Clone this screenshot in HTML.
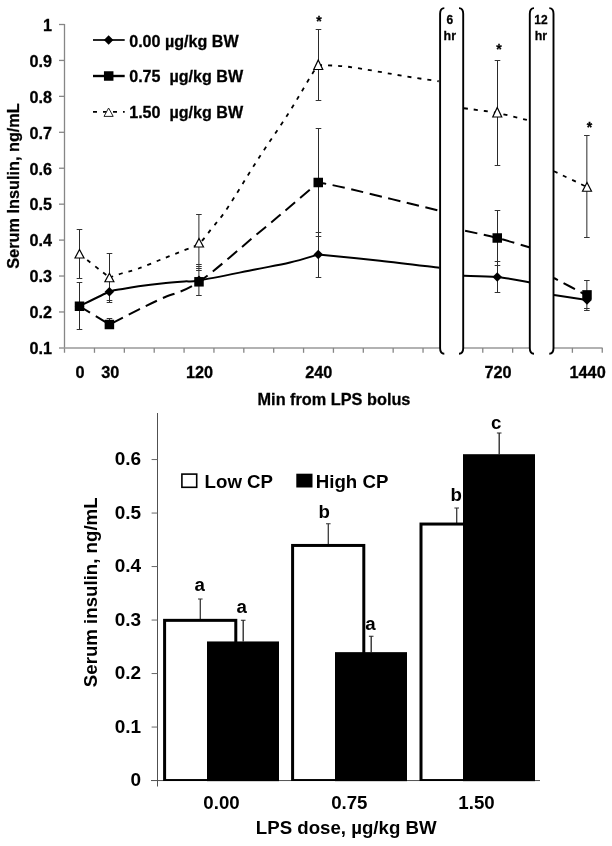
<!DOCTYPE html>
<html lang="en"><head><meta charset="utf-8"><title>Serum insulin</title>
<style>html,body{margin:0;padding:0;background:#fff}svg{display:block}text{font-family:"Liberation Sans",Arial,sans-serif;font-weight:bold;fill:#000;stroke:#000;stroke-width:0.28px}.b text{stroke:none}</style></head><body>
<svg width="612" height="846" viewBox="0 0 612 846">
<rect width="612" height="846" fill="#fff"/>
<g stroke="#868686" stroke-width="1.3" fill="none">
<path d="M64.50 24.00 V352.80"/>
<path d="M59.00 347.90 H602.60" stroke="#999" stroke-width="1.5"/>
<path d="M59 311.97 H64.50"/>
<path d="M59 276.03 H64.50"/>
<path d="M59 240.10 H64.50"/>
<path d="M59 204.17 H64.50"/>
<path d="M59 168.23 H64.50"/>
<path d="M59 132.30 H64.50"/>
<path d="M59 96.37 H64.50"/>
<path d="M59 60.43 H64.50"/>
<path d="M59 24.50 H64.50"/>
<path d="M94.47 347.90 V352.8"/>
<path d="M124.34 347.90 V352.8"/>
<path d="M154.21 347.90 V352.8"/>
<path d="M184.08 347.90 V352.8"/>
<path d="M213.95 347.90 V352.8"/>
<path d="M243.82 347.90 V352.8"/>
<path d="M273.69 347.90 V352.8"/>
<path d="M303.56 347.90 V352.8"/>
<path d="M333.43 347.90 V352.8"/>
<path d="M363.30 347.90 V352.8"/>
<path d="M393.17 347.90 V352.8"/>
<path d="M423.04 347.90 V352.8"/>
<path d="M452.91 347.90 V352.8"/>
<path d="M482.78 347.90 V352.8"/>
<path d="M512.65 347.90 V352.8"/>
<path d="M542.52 347.90 V352.8"/>
<path d="M572.39 347.90 V352.8"/>
<path d="M602.26 347.90 V352.8"/>
</g>
<g font-size="16.2" text-anchor="end">
<text x="52.0" y="354.20">0.1</text>
<text x="52.0" y="318.27">0.2</text>
<text x="52.0" y="282.33">0.3</text>
<text x="52.0" y="246.40">0.4</text>
<text x="52.0" y="210.47">0.5</text>
<text x="52.0" y="174.53">0.6</text>
<text x="52.0" y="138.60">0.7</text>
<text x="52.0" y="102.67">0.8</text>
<text x="52.0" y="66.73">0.9</text>
<text x="52.0" y="30.80">1</text>
</g>
<g font-size="16.3" text-anchor="middle">
<text x="80.1" y="378.3">0</text>
<text x="110.2" y="378.3">30</text>
<text x="199.6" y="378.3">120</text>
<text x="318.8" y="378.3">240</text>
<text x="498.0" y="378.3">720</text>
<text x="587.6" y="378.3">1440</text>
<text x="334" y="405.2">Min from LPS bolus</text>
<text transform="translate(19.3 186) rotate(-90)">Serum Insulin, ng/mL</text>
</g>
<g fill="none" stroke="#000" stroke-width="2">
<path d="M79.50 306.25 C84.48 303.84 102.22 294.68 109.40 291.80 C116.58 288.93 117.73 289.92 122.60 289.00 C127.47 288.08 132.12 287.23 138.60 286.30 C145.08 285.37 153.87 284.22 161.50 283.40 C169.13 282.58 178.15 281.88 184.40 281.40 C190.65 280.92 187.23 282.48 199.00 280.50 C210.77 278.52 239.83 272.50 255.00 269.50 C270.17 266.50 279.46 265.00 290.00 262.50 C300.54 260.00 313.54 255.83 318.25 254.50"/>
<path d="M318.25 254.50 C328.54 255.53 359.79 258.48 380.00 260.70 C400.21 262.92 429.58 266.62 439.50 267.80"/>
<path d="M464.00 275.75 C469.54 275.96 486.25 275.88 497.25 277.00 C508.25 278.12 524.54 281.58 530.00 282.50"/>
<path d="M554.00 295.00 C559.50 295.83 581.50 299.17 587.00 300.00"/>
</g>
<g fill="none" stroke="#000" stroke-width="2" stroke-dasharray="12.5 6.5">
<path d="M79.50 306.25 C84.48 309.29 104.42 321.46 109.40 324.50"/>
<path d="M109.40 324.50 C114.27 322.02 129.72 314.00 138.60 309.60 C147.48 305.20 152.63 302.73 162.70 298.10 C172.77 293.47 183.20 292.53 199.00 281.80 C214.80 271.07 242.75 245.93 257.50 233.75 C272.25 221.57 277.38 217.29 287.50 208.75 C297.62 200.21 313.12 186.88 318.25 182.50" stroke-dashoffset="16.3"/>
<path d="M318.25 182.50 C323.12 183.48 327.29 183.68 347.50 188.40 C367.71 193.12 424.17 207.07 439.50 210.80" stroke-dashoffset="4.3"/>
<path d="M464.00 230.50 C469.54 231.75 486.25 235.17 497.25 238.00 C508.25 240.83 524.54 245.92 530.00 247.50" stroke-dashoffset="17.75"/>
<path d="M554.00 278.00 C559.50 280.92 581.50 292.58 587.00 295.50" stroke-dashoffset="8"/>
</g>
<g fill="none" stroke="#000" stroke-width="1.8" stroke-dasharray="4 6">
<path d="M79.50 254.00 C84.48 257.92 104.42 273.58 109.40 277.50"/>
<path d="M109.40 277.50 C111.42 276.83 116.63 275.00 121.50 273.50 C126.37 272.00 131.93 270.87 138.60 268.50 C145.27 266.13 153.87 262.35 161.50 259.30 C169.13 256.25 178.15 252.83 184.40 250.20 C190.65 247.57 194.32 247.28 199.00 243.50 C203.68 239.72 207.75 233.42 212.50 227.50 C217.25 221.58 220.00 219.25 227.50 208.00 C235.00 196.75 247.38 175.71 257.50 160.00 C267.62 144.29 279.50 127.50 288.25 113.75 C297.00 100.00 305.00 85.62 310.00 77.50 C315.00 69.38 316.88 67.08 318.25 65.00"/>
<path d="M318.25 65.00 C323.54 65.33 335.54 65.12 350.00 67.00 C364.46 68.88 390.21 73.88 405.00 76.25 C419.79 78.62 433.12 80.42 438.75 81.25"/>
<path d="M464.00 108.25 C469.54 109.04 486.25 110.92 497.25 113.00 C508.25 115.08 524.54 119.46 530.00 120.75"/>
<path d="M554.00 171.25 C559.50 173.88 581.50 184.38 587.00 187.00"/>
</g>
<g fill="none">
<path d="M79.50 229.25 V278.00" stroke="#2a2a2a" stroke-width="1"/>
<path d="M79.50 282.50 V329.50" stroke="#2a2a2a" stroke-width="1"/>
<path d="M76.70 229.50 h5.60 M76.70 278.50 h5.60 M76.70 282.50 h5.60 M76.70 329.50 h5.60" stroke="#333" stroke-width="1"/>
<path d="M109.50 253.25 V303.00" stroke="#2a2a2a" stroke-width="1"/>
<path d="M109.50 318.00 V328.75" stroke="#2a2a2a" stroke-width="1"/>
<path d="M106.70 253.50 h5.60 M106.70 300.50 h5.60 M106.70 302.50 h5.60 M106.70 318.50 h5.60 M106.70 328.50 h5.60" stroke="#333" stroke-width="1"/>
<path d="M198.90 214.50 V295.10" stroke="#2a2a2a" stroke-width="1"/>
<path d="M196.10 214.50 h5.60 M196.10 264.50 h5.60 M196.10 266.50 h5.60 M196.10 268.50 h5.60 M196.10 270.50 h5.60 M196.10 295.50 h5.60" stroke="#333" stroke-width="1"/>
<path d="M318.50 29.30 V100.20" stroke="#2a2a2a" stroke-width="1"/>
<path d="M318.50 128.25 V277.70" stroke="#2a2a2a" stroke-width="1"/>
<path d="M315.70 29.50 h5.60 M315.70 100.50 h5.60 M315.70 128.50 h5.60 M315.70 232.50 h5.60 M315.70 236.50 h5.60 M315.70 277.50 h5.60" stroke="#333" stroke-width="1"/>
<path d="M497.50 60.00 V165.75" stroke="#2a2a2a" stroke-width="1"/>
<path d="M497.50 210.50 V292.50" stroke="#2a2a2a" stroke-width="1"/>
<path d="M494.70 60.50 h5.60 M494.70 165.50 h5.60 M494.70 210.50 h5.60 M494.70 261.50 h5.60 M494.70 265.50 h5.60 M494.70 292.50 h5.60" stroke="#333" stroke-width="1"/>
<path d="M586.85 135.50 V237.50" stroke="#2a2a2a" stroke-width="1"/>
<path d="M586.85 280.40 V310.20" stroke="#2a2a2a" stroke-width="1"/>
<path d="M584.05 135.50 h5.60 M584.05 237.50 h5.60 M584.05 280.50 h5.60 M584.05 308.50 h5.60 M584.05 310.50 h5.60" stroke="#333" stroke-width="1"/>
</g>
<path d="M74.75 306.25 L79.50 301.50 L84.25 306.25 L79.50 311.00Z" fill="#000"/>
<path d="M104.65 291.75 L109.40 287.00 L114.15 291.75 L109.40 296.50Z" fill="#000"/>
<path d="M194.25 280.30 L199.00 275.55 L203.75 280.30 L199.00 285.05Z" fill="#000"/>
<path d="M313.50 254.50 L318.25 249.75 L323.00 254.50 L318.25 259.25Z" fill="#000"/>
<path d="M492.50 277.00 L497.25 272.25 L502.00 277.00 L497.25 281.75Z" fill="#000"/>
<path d="M582.25 300.00 L587.00 295.25 L591.75 300.00 L587.00 304.75Z" fill="#000"/>
<rect x="74.75" y="301.50" width="9.50" height="9.50" fill="#000"/>
<rect x="104.65" y="319.75" width="9.50" height="9.50" fill="#000"/>
<rect x="194.25" y="277.05" width="9.50" height="9.50" fill="#000"/>
<rect x="313.50" y="177.75" width="9.50" height="9.50" fill="#000"/>
<rect x="492.50" y="233.25" width="9.50" height="9.50" fill="#000"/>
<rect x="582.25" y="290.15" width="9.50" height="9.50" fill="#000"/>
<path d="M79.50 249.50 L84.00 258.00 L75.00 258.00Z" fill="#fff" stroke="#000" stroke-width="1.2"/>
<path d="M109.40 273.25 L113.90 281.75 L104.90 281.75Z" fill="#fff" stroke="#000" stroke-width="1.2"/>
<path d="M199.00 238.50 L203.50 247.00 L194.50 247.00Z" fill="#fff" stroke="#000" stroke-width="1.2"/>
<path d="M318.25 60.00 L322.75 69.50 L313.75 69.50Z" fill="#fff" stroke="#000" stroke-width="1.2"/>
<path d="M497.25 107.50 L501.75 117.00 L492.75 117.00Z" fill="#fff" stroke="#000" stroke-width="1.2"/>
<path d="M587.00 182.50 L591.50 191.25 L582.50 191.25Z" fill="#fff" stroke="#000" stroke-width="1.2"/>
<g font-size="14" text-anchor="middle">
<text x="318.9" y="25.8">*</text>
<text x="499.0" y="54.2">*</text>
<text x="589.5" y="131.7">*</text>
</g>
<g stroke="#000" fill="none">
<path d="M93 40.0 H124.7" stroke-width="1.7"/>
<path d="M93 76.0 H124.7" stroke-width="2.4"/>
<path d="M93 111.9 H124.7" stroke-width="1.8" stroke-dasharray="4 6"/>
</g>
<path d="M103.85 40.00 L108.60 35.25 L113.35 40.00 L108.60 44.75Z" fill="#000"/>
<rect x="103.95" y="71.25" width="9.50" height="9.50" fill="#000"/>
<path d="M108.6 108 L113.2 116.4 L104 116.4Z" fill="#fff" stroke="#222" stroke-width="1"/>
<g font-size="16.1">
<text x="129.2" y="46.6">0.00 µg/kg BW</text>
<text x="129.2" y="82.2" xml:space="preserve" style="white-space:pre">0.75  µg/kg BW</text>
<text x="129.2" y="117.9" xml:space="preserve" style="white-space:pre">1.50  µg/kg BW</text>
</g>
<path d="M444.30 8.10 Q440.10 8.10 440.10 13.80 V348.10 Q440.10 353.80 444.30 353.80 H459.00 Q463.20 353.80 463.20 348.10 V13.80 Q463.20 8.10 459.00 8.10Z" fill="#fff" stroke="none"/>
<path d="M444.30 8.10 Q440.10 8.10 440.10 13.80 V348.10 Q440.10 353.80 444.30 353.80" fill="none" stroke="#000" stroke-width="1.9"/>
<path d="M459.00 8.10 Q463.20 8.10 463.20 13.80 V348.10 Q463.20 353.80 459.00 353.80" fill="none" stroke="#000" stroke-width="1.9"/>
<text font-size="12" stroke-width="0.1" text-anchor="middle" x="449.8" y="24.4">6</text>
<text font-size="12.4" stroke-width="0.1" text-anchor="middle" x="449.8" y="40">hr</text>
<path d="M534.00 8.10 Q529.80 8.10 529.80 13.80 V348.10 Q529.80 353.80 534.00 353.80 H549.30 Q553.50 353.80 553.50 348.10 V13.80 Q553.50 8.10 549.30 8.10Z" fill="#fff" stroke="none"/>
<path d="M534.00 8.10 Q529.80 8.10 529.80 13.80 V348.10 Q529.80 353.80 534.00 353.80" fill="none" stroke="#000" stroke-width="1.9"/>
<path d="M549.30 8.10 Q553.50 8.10 553.50 13.80 V348.10 Q553.50 353.80 549.30 353.80" fill="none" stroke="#000" stroke-width="1.9"/>
<text font-size="12" stroke-width="0.1" text-anchor="middle" x="541.0" y="24.4">12</text>
<text font-size="12.4" stroke-width="0.1" text-anchor="middle" x="541.0" y="40">hr</text>
<g class="b">
<g stroke="#686868" stroke-width="1" fill="none">
<path d="M157.50 413 V786.5" stroke="#505050"/>
<path d="M151 780.55 H540" stroke="#505050"/>
<path d="M151.6 727.05 H157.50"/>
<path d="M151.6 673.55 H157.50"/>
<path d="M151.6 620.05 H157.50"/>
<path d="M151.6 566.55 H157.50"/>
<path d="M151.6 513.05 H157.50"/>
<path d="M151.6 459.55 H157.50"/>
</g>
<g font-size="19" text-anchor="end">
<text x="141.1" y="786.45">0</text>
<text x="141.1" y="732.95">0.1</text>
<text x="141.1" y="679.45">0.2</text>
<text x="141.1" y="625.95">0.3</text>
<text x="141.1" y="572.45">0.4</text>
<text x="141.1" y="518.95">0.5</text>
<text x="141.1" y="465.45">0.6</text>
</g>
<clipPath id="cb"><rect x="150" y="400" width="420" height="381.1"/></clipPath>
<path d="M200.30 599.00 V620.05" stroke="#3a3a3a" stroke-width="1.3"/>
<path d="M198.00 599.00 h4.6" stroke="#333" stroke-width="1"/>
<rect x="164.60" y="620.35" width="71.20" height="160.20" fill="#fff" stroke="#000" stroke-width="3" clip-path="url(#cb)"/>
<path d="M328.30 523.75 V545.15" stroke="#3a3a3a" stroke-width="1.3"/>
<path d="M326.00 523.75 h4.6" stroke="#333" stroke-width="1"/>
<rect x="292.60" y="545.45" width="71.20" height="235.10" fill="#fff" stroke="#000" stroke-width="3" clip-path="url(#cb)"/>
<path d="M456.70 508.00 V523.75" stroke="#3a3a3a" stroke-width="1.3"/>
<path d="M454.40 508.00 h4.6" stroke="#333" stroke-width="1"/>
<rect x="421.00" y="524.05" width="71.20" height="256.50" fill="#fff" stroke="#000" stroke-width="3" clip-path="url(#cb)"/>
<path d="M243.20 620.25 V641.45" stroke="#222" stroke-width="1.3"/>
<path d="M240.90 620.25 h4.6" stroke="#222" stroke-width="1"/>
<rect x="207.00" y="641.45" width="72" height="139.70" fill="#000"/>
<path d="M371.20 636.25 V652.15" stroke="#222" stroke-width="1.3"/>
<path d="M368.90 636.25 h4.6" stroke="#222" stroke-width="1"/>
<rect x="335.00" y="652.15" width="72" height="129.00" fill="#000"/>
<path d="M499.20 433.00 V454.20" stroke="#222" stroke-width="1.3"/>
<path d="M496.90 433.00 h4.6" stroke="#222" stroke-width="1"/>
<rect x="463.00" y="454.20" width="72" height="326.95" fill="#000"/>
<g font-size="18.67" text-anchor="middle">
<text x="199.6" y="591.2">a</text>
<text x="241.8" y="613.0">a</text>
<text x="324.3" y="518.0">b</text>
<text x="370.5" y="630.0">a</text>
<text x="456.3" y="500.5">b</text>
<text x="496.3" y="428.8">c</text>
<text x="221.5" y="809.1">0.00</text>
<text x="349.3" y="809.1">0.75</text>
<text x="476.5" y="809.1">1.50</text>
<text x="346.2" y="834.3" font-size="18.67">LPS dose, µg/kg BW</text>
<text transform="translate(97.4 592.3) rotate(-90)" font-size="18.67">Serum insulin, ng/mL</text>
</g>
<rect x="181.9" y="474.1" width="14.8" height="13.2" fill="#fff" stroke="#000" stroke-width="1.6"/>
<rect x="296.3" y="473.7" width="16.2" height="13.8" fill="#000"/>
<g font-size="18.67">
<text x="204.6" y="487.5">Low CP</text>
<text x="315.8" y="487.5">High CP</text>
</g>
</g>
</svg></body></html>
